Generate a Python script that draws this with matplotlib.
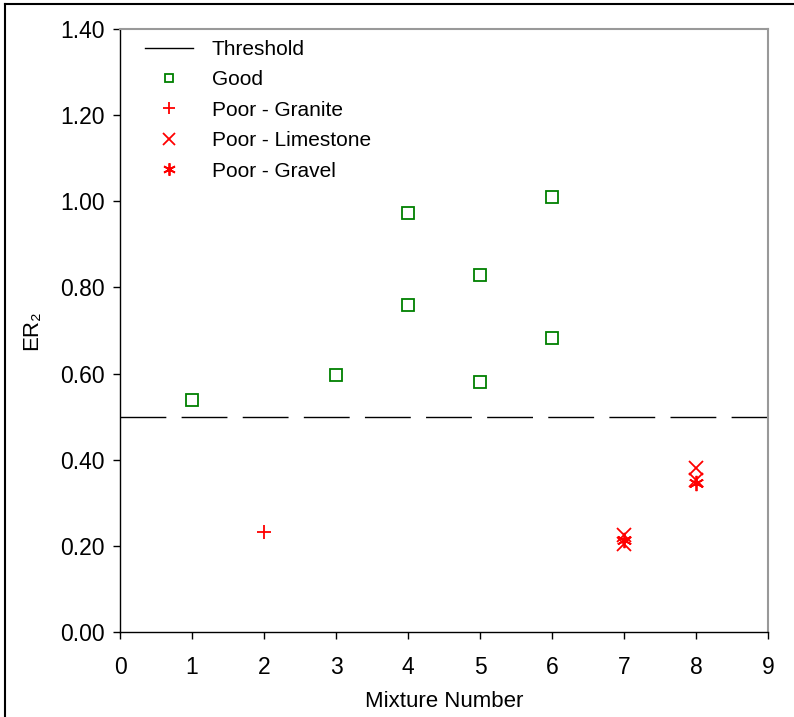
import matplotlib
matplotlib.use("Agg")
import matplotlib.pyplot as plt
from matplotlib.lines import Line2D

plt.rcParams['font.family'] = ['Liberation Sans', 'DejaVu Sans']

# Data
threshold_x = [0, 9]
threshold_y = [0.50, 0.50]
good_x = [1, 3, 4, 4, 5, 5, 6, 6]
good_y = [0.539, 0.596, 0.973, 0.759, 0.829, 0.580, 1.010, 0.683]
granite_x = [2]
granite_y = [0.232]
limestone_x = [7, 7, 8, 8]
limestone_y = [0.225, 0.205, 0.380, 0.352]
gravel_x = [7, 8]
gravel_y = [0.214, 0.345]
xticks = list(range(0, 10))
yticks = [0.0, 0.2, 0.4, 0.6, 0.8, 1.0, 1.2, 1.4]

W, H = 794, 717
fig = plt.figure(figsize=(W / 100, H / 100), dpi=100)
ax = fig.add_axes([120 / W, (H - 632) / H, (768 - 120) / W, (632 - 29) / H])

green = '#008000'
red = '#ff0000'

ax.plot(threshold_x, threshold_y, color='black', lw=1.0, dashes=(33, 11))
ax.plot(good_x, good_y, ls='none', marker='s', ms=8.5, mfc='none', mec=green, mew=1.3)
ax.plot(granite_x, granite_y, ls='none', marker='+', ms=10, mec=red, mew=1.3)
ax.plot(limestone_x, limestone_y, ls='none', marker='x', ms=10, mec=red, mew=1.3)
ax.plot(gravel_x, gravel_y, ls='none', marker=(6, 2, 0), ms=11, mec=red, mew=1.3)

ax.set_xlim(0, 9)
ax.set_ylim(0, 1.4)
ax.set_xticks(xticks)
ax.set_yticks(yticks)
ax.set_yticklabels([f"{v:.2f}" for v in yticks])
ax.tick_params(direction='out', length=5, width=1, labelsize=16.5)
ax.tick_params(axis='y', pad=6)
ax.tick_params(axis='x', pad=12)
ax.set_xlabel('Mixture Number', fontsize=16, labelpad=9)
ax.set_ylabel('ER₂', fontsize=16, labelpad=13)
for s in ['top', 'right']:
    ax.spines[s].set_color('#999999')
    ax.spines[s].set_linewidth(1.5)
for s in ['left', 'bottom']:
    ax.spines[s].set_linewidth(1.0)

handles = [
    Line2D([], [], color='black', lw=1.0),
    Line2D([], [], ls='none', marker='s', ms=6, mfc='none', mec=green, mew=1.3),
    Line2D([], [], ls='none', marker='+', ms=9, mec=red, mew=1.3),
    Line2D([], [], ls='none', marker='x', ms=8, mec=red, mew=1.3),
    Line2D([], [], ls='none', marker=(6, 2, 0), ms=9, mec=red, mew=1.3),
]
labels = ['Threshold', 'Good', 'Poor - Granite', 'Poor - Limestone', 'Poor - Gravel']
ax.legend(handles, labels, loc='upper left', bbox_to_anchor=(0.039, 0.982),
          frameon=False, fontsize=15, handlelength=2.3, handletextpad=0.9,
          labelspacing=0.55, borderaxespad=0, borderpad=0)

# outer frame (top and left edges visible in the reference)
fig.add_artist(Line2D([5 / W, 5 / W], [0, (H - 4) / H], transform=fig.transFigure,
                      color='black', lw=1.5))
fig.add_artist(Line2D([5 / W, 1], [(H - 4) / H, (H - 4) / H], transform=fig.transFigure,
                      color='black', lw=1.5))

fig.savefig('out.png', dpi=100)
